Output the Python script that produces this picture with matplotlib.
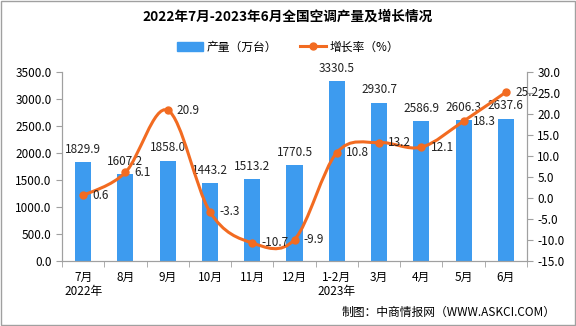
import numpy as np
import matplotlib
matplotlib.use("Agg")
from matplotlib import pyplot as plt
from matplotlib.path import Path
from matplotlib.patches import PathPatch, Patch
from matplotlib.lines import Line2D

plt.rcParams['font.family'] = ['Noto Sans CJK SC', 'DejaVu Sans']

months = ["7月\n2022年", "8月", "9月", "10月", "11月", "12月", "1-2月\n2023年",
          "3月", "4月", "5月", "6月"]
output = [1829.9, 1607.2, 1858.0, 1443.2, 1513.2, 1770.5, 3330.5,
          2930.7, 2586.9, 2606.3, 2637.6]
growth = [0.6, 6.1, 20.9, -3.3, -10.7, -9.9, 10.8, 13.2, 12.1, 18.3, 25.2]

bar_color = "#3d9bef"
line_color = "#f26b21"
grey = "#a0a0a0"

fig = plt.figure(figsize=(5.76, 3.26), dpi=100)
ax = fig.add_axes([62 / 576, 1 - 261 / 326, (527 - 62) / 576, (261 - 72) / 326])
ax2 = ax.twinx()

x = np.arange(len(months))
ax.bar(x, output, width=0.38, color=bar_color, zorder=2)
for xi, v in zip(x, output):
    ax.text(xi, v + 120, f"{v:.1f}", ha="center", va="bottom", fontsize=8.5, color="#222222")

# smooth line through the points (Catmull-Rom as cubic Bezier segments)
pts = np.column_stack([x, growth]).astype(float)
verts = [pts[0]]
codes = [Path.MOVETO]
for i in range(len(pts) - 1):
    p0 = pts[i - 1] if i > 0 else pts[i]
    p1, p2 = pts[i], pts[i + 1]
    p3 = pts[i + 2] if i + 2 < len(pts) else pts[i + 1]
    c1 = p1 + (p2 - p0) / 6
    c2 = p2 - (p3 - p1) / 6
    verts += [c1, c2, p2]
    codes += [Path.CURVE4] * 3
ax2.add_patch(PathPatch(Path(verts, codes), fill=False, edgecolor=line_color, lw=2.2, zorder=3))
ax2.plot(x, growth, "o", color=line_color, ms=5, zorder=4)
for xi, g in zip(x, growth):
    ax2.text(xi + 0.22, g, f"{g:.1f}", ha="left", va="center", fontsize=8.5, color="#222222", zorder=5)

ax.set_xlim(-0.5, len(months) - 0.5)
ax.set_ylim(0, 3500)
ax.set_yticks(np.arange(0, 3501, 500))
ax.set_yticklabels([f"{v:.1f}" for v in np.arange(0, 3501, 500)])
ax2.set_ylim(-15, 30)
ax2.set_yticks(np.arange(-15, 31, 5))
ax2.set_yticklabels([f"{v:.1f}" for v in np.arange(-15, 31, 5)])

ax.set_xticks(x)
ax.set_xticklabels(months, fontsize=8.5, linespacing=1.1)
ax.set_xticks(np.arange(-0.5, len(months), 1), minor=True)
ax.tick_params(axis="x", which="major", length=0, pad=7)
ax.tick_params(axis="x", which="minor", length=4, color=grey)
ax.tick_params(axis="y", labelsize=8.5, color=grey, length=4)
ax2.tick_params(axis="y", labelsize=8.5, color=grey, length=4)

for a in (ax, ax2):
    a.spines["top"].set_visible(False)
    for s in ("left", "right", "bottom"):
        a.spines[s].set_color(grey)

# legend
handles = [Patch(color=bar_color, label="产量（万台）"),
           Line2D([0], [0], color=line_color, lw=2.2, marker="o", ms=5, label="增长率（%）")]
fig.legend(handles=handles, loc="center", bbox_to_anchor=(0.5, 1 - 47 / 326), ncol=2,
           frameon=False, fontsize=8.5, handlelength=2.2, handletextpad=0.3, columnspacing=2)

fig.text(0.5, 1 - 17 / 326, "2022年7月-2023年6月全国空调产量及增长情况", ha="center", va="center",
         fontsize=9.8, fontweight="bold")
fig.text(0.965, 1 - 312 / 326, "制图：中商情报网（WWW.ASKCI.COM）", ha="right", va="center", fontsize=8.5)

fig.patches.append(plt.Rectangle((0.002, 0.003), 0.996, 0.994, transform=fig.transFigure,
                                 fill=False, edgecolor=grey, lw=1))

fig.savefig("out.png", dpi=100)
